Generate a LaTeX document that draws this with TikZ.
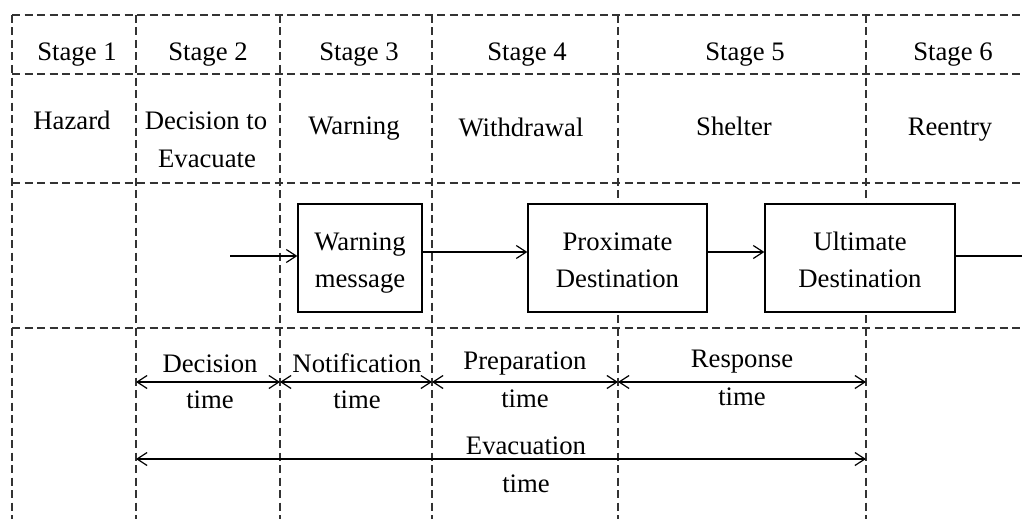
\documentclass[tikz,border=0pt]{standalone}
\usepackage{fontspec}
\setmainfont{Liberation Serif}
\usetikzlibrary{arrows.meta}
\newcommand{\topstrut}{\rule{0pt}{27pt}}
\newcommand{\botstrut}{\rule[-6pt]{0pt}{6pt}}
\begin{document}
\begin{tikzpicture}[x=1pt,y=-1pt,
  grid/.style={line width=1.2pt, draw=black!80, dash pattern=on 8pt off 4.5pt},
  lbl/.style={font=\fontsize{26.7}{37}\selectfont, inner sep=0pt, anchor=base},
  box/.style={draw, line width=1.3pt, fill=white, font=\fontsize{26.7}{37}\selectfont, align=center, minimum height=108pt, inner sep=0pt},
  tip/.tip={Straight Barb[length=10pt,width=13pt]},
  conn/.style={line width=1.2pt, -tip},
  span/.style={line width=1.2pt, tip-tip}
]
\useasboundingbox (0,0) rectangle (1022,519);
% grid
\foreach \yy in {15,74,183,328} \draw[grid] (12,\yy) -- (1022,\yy);
\foreach \xx in {12,136,280,432,618,866} \draw[grid] (\xx,15) -- (\xx,519);
% header row
\node[lbl] (s1) at (77,60) {Stage 1};
\node[lbl] (s2) at (208,60) {Stage 2};
\node[lbl] (s3) at (359,60) {Stage 3};
\node[lbl] (s4) at (527,60) {Stage 4};
\node[lbl] (s5) at (745,60) {Stage 5};
\node[lbl] (s6) at (953,60) {Stage 6};
% activity row
\node[lbl] (hz) at (72,129) {Hazard};
\node[lbl] (de1) at (206,129) {Decision to};
\node[lbl] (de2) at (207,167) {Evacuate};
\node[lbl] (wa) at (354,134) {Warning};
\node[lbl] (wd) at (521,136) {Withdrawal};
\node[lbl] (sh) at (734,135) {Shelter};
\node[lbl] (re) at (950,135) {Reentry};
% boxes
\node[box, minimum width=124pt] (wm) at (360,258) {\topstrut Warning\\message\botstrut};
\node[box, minimum width=179pt] (pd) at (617.5,258) {\topstrut Proximate\\Destination\botstrut};
\node[box, minimum width=190pt] (ud) at (860,258) {\topstrut Ultimate\\Destination\botstrut};
\coordinate (in) at (230,256);
\coordinate (out) at (1022,256);
\draw[conn] (in) -- (in -| wm.west);
\draw[conn] ([yshift=6pt]wm.east) -- ([yshift=6pt]pd.west);
\draw[conn] ([yshift=6pt]pd.east) -- ([yshift=6pt]ud.west);
\draw[line width=1.2pt] ([yshift=2pt]ud.east) -- (out);
% time spans
\coordinate (t1) at (136,382);
\coordinate (t2) at (280,382);
\coordinate (t3) at (432,382);
\coordinate (t4) at (618,382);
\coordinate (t5) at (866,382);
\draw[span] (t1) -- (t2);
\draw[span] (t2) -- (t3);
\draw[span] (t3) -- (t4);
\draw[span] (t4) -- (t5);
\coordinate (e1) at (136,459);
\coordinate (e2) at (866,459);
\draw[span] (e1) -- (e2);
\node[lbl] (dt1) at (210,372) {Decision};
\node[lbl] (dt2) at (210,408) {time};
\node[lbl] (nt1) at (357,372) {Notification};
\node[lbl] (nt2) at (357,408) {time};
\node[lbl] (pt1) at (525,369) {Preparation};
\node[lbl] (pt2) at (525,407) {time};
\node[lbl] (rt1) at (742,367) {Response};
\node[lbl] (rt2) at (742,405) {time};
\node[lbl] (et1) at (526,454) {Evacuation};
\node[lbl] (et2) at (526,492) {time};
\end{tikzpicture}
\end{document}
